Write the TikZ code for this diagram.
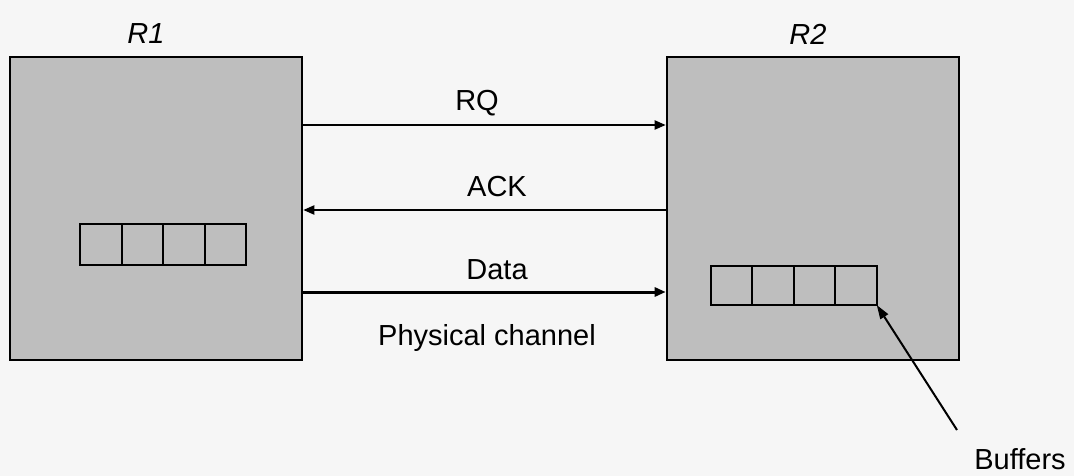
\documentclass[tikz,border=0pt]{standalone}
\usepackage{fontspec}
\setmainfont{Liberation Sans}
\usetikzlibrary{arrows.meta}
\definecolor{boxgray}{RGB}{190,190,190}
\definecolor{bgcol}{RGB}{246,246,246}
\begin{document}
\begin{tikzpicture}[x=1pt,y=-1pt,
  router/.style={draw=black,line width=2.6pt,fill=boxgray,minimum width=292pt,minimum height=303pt,inner sep=0pt},
  cell/.style={draw=black,line width=2pt,minimum width=41.5pt,minimum height=41pt,inner sep=0pt,outer sep=0pt},
  lbl/.style={font=\fontsize{29}{32}\selectfont,inner sep=0pt},
  conn/.style={line width=2pt,-{Triangle[length=11pt,width=9pt]}},
  dataconn/.style={line width=3pt,-{Triangle[length=11pt,width=9pt]}}]
\fill[bgcol] (0,0) rectangle (1074,476);
\useasboundingbox (0,0) rectangle (1074,476);
\node[router] (R1) at (156,208.5) {};
\node[router] (R2) at (813,208.5) {};
\node[lbl,font=\fontsize{29}{32}\selectfont\itshape] (R1l) at (146,34) {R1};
\node[lbl,font=\fontsize{29}{32}\selectfont\itshape] (R2l) at (808,34) {R2};
% buffers in R1
\node[cell] (a1) at (101,244) {};
\node[cell,anchor=west] (a2) at (a1.east) {};
\node[cell,anchor=west] (a3) at (a2.east) {};
\node[cell,anchor=west] (a4) at (a3.east) {};
% buffers in R2
\node[cell,minimum height=39pt] (b1) at (731.5,285.5) {};
\node[cell,minimum height=39pt,anchor=west] (b2) at (b1.east) {};
\node[cell,minimum height=39pt,anchor=west] (b3) at (b2.east) {};
\node[cell,minimum height=39pt,anchor=west] (b4) at (b3.east) {};
% connectors
\coordinate (yRQ) at (0,125);
\coordinate (yACK) at (0,210);
\coordinate (yD) at (0,292);
\draw[conn] (R1.east |- yRQ) -- (R2.west |- yRQ);
\draw[conn] (R2.west |- yACK) -- (R1.east |- yACK);
\draw[dataconn] (R1.east |- yD) -- (R2.west |- yD);
\node[lbl] (rq) at (477,103) {RQ};
\node[lbl] (ack) at (497,187) {ACK};
\node[lbl] (data) at (497,270) {Data};
\node[lbl] (phys) at (487,338) {Physical channel};
\node[lbl] (buf) at (1020,459) {Buffers};
\coordinate (bufstart) at (957,430);
\draw[line width=2pt,-{Triangle[length=14pt,width=9pt]}] (bufstart) -- (b4.south east);
\end{tikzpicture}
\end{document}
